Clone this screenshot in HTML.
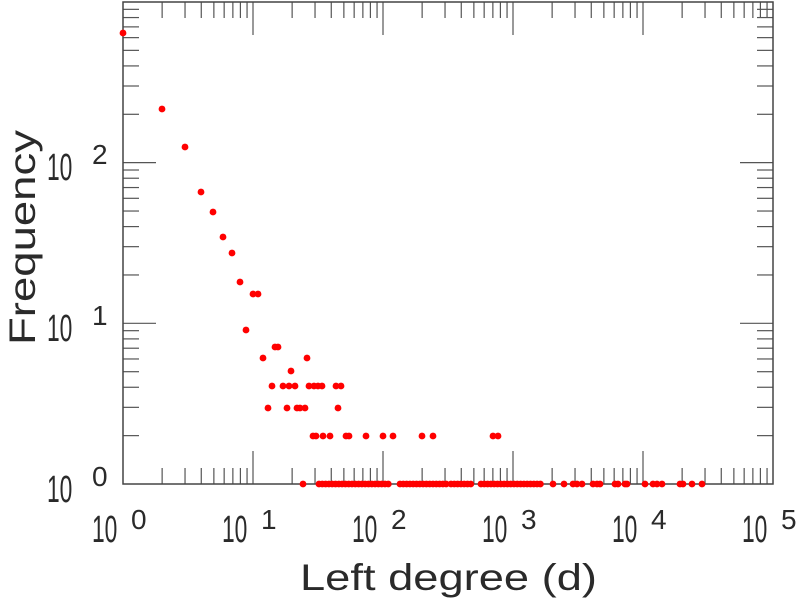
<!DOCTYPE html>
<html><head><meta charset="utf-8"><style>
html,body{margin:0;padding:0;background:#fff;}
svg{display:block;}
text{font-family:"Liberation Sans",sans-serif;fill:#2a2a2a;}
.m{font-size:38px;}
.s{font-size:28px;}
</style></head><body>
<svg id="s" width="804" height="600" viewBox="0 0 804 600" xmlns="http://www.w3.org/2000/svg">
<g id="ticks" stroke="#555" stroke-width="1.2"></g>
<rect x="123" y="2" width="650" height="482" fill="none" stroke="#444" stroke-width="1.5"/>
<g id="dots" fill="#ff0000"></g>
<g>
<text class="m" transform="translate(92,542) scale(0.6,1)">10</text><text class="s" x="131" y="529">0</text>
<text class="m" transform="translate(222,542) scale(0.6,1)">10</text><text class="s" x="261" y="529">1</text>
<text class="m" transform="translate(352,542) scale(0.6,1)">10</text><text class="s" x="391" y="529">2</text>
<text class="m" transform="translate(482,542) scale(0.6,1)">10</text><text class="s" x="521" y="529">3</text>
<text class="m" transform="translate(612,542) scale(0.6,1)">10</text><text class="s" x="651" y="529">4</text>
<text class="m" transform="translate(742,542) scale(0.6,1)">10</text><text class="s" x="781" y="529">5</text>
<text class="m" transform="translate(47,502) scale(0.6,1)">10</text><text class="s" x="92" y="486">0</text>
<text class="m" transform="translate(47,341) scale(0.6,1)">10</text><text class="s" x="92" y="325">1</text>
<text class="m" transform="translate(47,180) scale(0.6,1)">10</text><text class="s" x="92" y="164">2</text>
</g>
<text x="300" y="590" font-size="37" textLength="297" lengthAdjust="spacingAndGlyphs">Left degree (d)</text>
<text transform="translate(35,345) rotate(-90)" font-size="37" textLength="215" lengthAdjust="spacingAndGlyphs">Frequency</text>
</svg>
<script>
var NS="http://www.w3.org/2000/svg";
function el(p,t,a){var e=document.createElementNS(NS,t);for(var k in a)e.setAttribute(k,a[k]);document.getElementById(p).appendChild(e);}
var L=123,R=773,T=2,B=484,DX=130,DY=160.67;
for(var d=0;d<5;d++){for(var m=1;m<10;m++){var x=L+DX*(d+Math.log10(m));var len=(m==1)?33:16;
 if(m==1&&d==0)continue;
 el("ticks","line",{x1:x,y1:B,x2:x,y2:B-len});el("ticks","line",{x1:x,y1:T,x2:x,y2:T+len});}}
for(var d=0;d<3;d++){for(var m=1;m<10;m++){var y=B-DY*(d+Math.log10(m));var len=(m==1)?33:16;
 if(m==1&&d==0)continue;
 el("ticks","line",{x1:L,y1:y,x2:L+len,y2:y});el("ticks","line",{x1:R,y1:y,x2:R-len,y2:y});}}
var pts=[[123,33],[162,109],[185,147],[201,192],[213,212],[223,237],[232,253],[240,282],[246,330],[253,294],[258,294],
[275,347],[278,347],[263,358],[307,358],[291,371],
[272,386],[283,386],[289,386],[295,386],[309,386],[314,386],[318,386],[322,386],[336,386],[341,386],
[268,408],[287,408],[297,408],[300,408],[305,408],[338,408],
[313,436],[316,436],[323,436],[330,436],[346,436],[349,436],[366,436],[383,436],[393,436],[422,436],[433,436],[493,436],[498,436],
[303,484],[553,484],[564,484],[573,484],[577,484],[582,484],[593,484],[597,484],[600,484],[615,484],[618,484],[625,484],[627,484],[645,484],[653,484],[657,484],[662,484],[680,484],[683,484],[692,484],[702,484]];
var ranges=[[319,390],[400,447],[451,473],[481,543]];
ranges.forEach(function(r){for(var x=r[0];x<=r[1];x+=3.3)pts.push([x,484]);});
pts.forEach(function(p){el("dots","circle",{cx:p[0],cy:p[1],r:3.4});});
</script>
</body></html>
